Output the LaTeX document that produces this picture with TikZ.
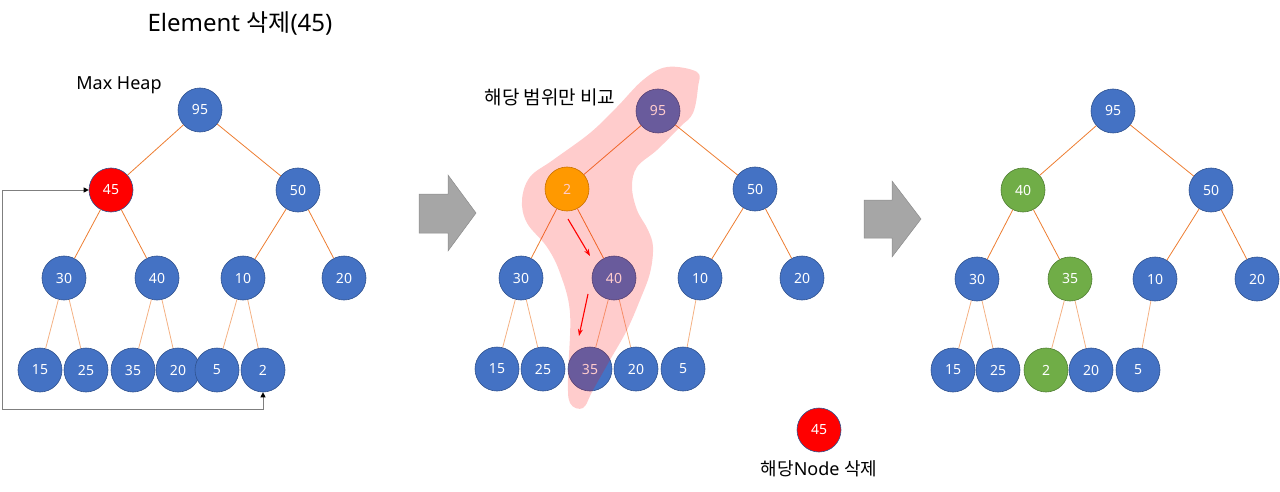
\documentclass[tikz,border=0pt]{standalone}
\usepackage{fontspec}
\setmainfont{Noto Sans}
\newfontfamily\kr{Noto Sans CJK KR}
\usepackage{xcolor}
\usepackage{tikz}
\usetikzlibrary{arrows.meta}
\definecolor{nblue}{HTML}{4472C4}
\definecolor{nblueline}{HTML}{2F528F}
\definecolor{ngreen}{HTML}{70AD47}
\definecolor{ngreenline}{HTML}{507E32}
\definecolor{ngold}{HTML}{FFC000}
\definecolor{ngoldline}{HTML}{BC8C00}
\definecolor{nred}{HTML}{FF0000}
\definecolor{edge}{HTML}{ED7D31}
\definecolor{edgelt}{HTML}{F4B183}
\definecolor{block}{HTML}{A6A6A6}
\definecolor{blockline}{HTML}{8C8C8C}
\definecolor{link}{HTML}{7F7F7F}
\tikzset{
  nd/.style={circle, minimum size=44pt, inner sep=0pt, fill=nblue, draw=nblueline, line width=0.6pt, text=white, font=\fontsize{14}{14}\selectfont},
  grn/.style={nd, fill=ngreen, draw=ngreenline},
  gld/.style={nd, fill=ngold, draw=ngoldline},
  del/.style={nd, fill=nred, draw=nblueline},
  up/.style={draw=edge, line width=0.8pt},
  lo/.style={draw=edgelt, line width=0.8pt},
  blk/.style={fill=block, draw=blockline, line width=0.5pt},
  move/.style={draw=nred, line width=1.1pt, -{Stealth[length=7pt,width=5pt]}},
  lbl/.style={text=black, font=\fontsize{18}{18}\selectfont, inner sep=0pt},
  ttl/.style={text=black, font=\fontsize{24}{24}\selectfont, inner sep=0pt}
}

\begin{document}
\begin{tikzpicture}[x=1pt,y=-1pt]
\useasboundingbox (0,0) rectangle (1280,492);

\node[ttl] (title) at (240,23) {Element {\kr 삭제}(45)};
\node[lbl] (maxheap) at (119,85) {Max Heap};

% left heap
\node[nd] (a95) at (200,110) {95};
\node[del] (a45) at (111,190) {45};
\node[nd] (a50) at (298,190) {50};
\node[nd] (a30) at (64,278) {30};
\node[nd] (a40) at (157,278) {40};
\node[nd] (a10) at (243,278) {10};
\node[nd] (a20) at (344,278) {20};
\node[nd] (a15) at (40,370) {15};
\node[nd] (a25) at (86,370) {25};
\node[nd] (a35) at (133,370) {35};
\node[nd] (a20b) at (178,370) {20};
\node[nd] (a5) at (217,370) {5};
\node[nd] (a2) at (263,370) {2};
\draw[up] (a95) -- (a45) (a95) -- (a50);
\draw[up] (a45) -- (a30) (a45) -- (a40) (a50) -- (a10) (a50) -- (a20);
\draw[lo] (a30) -- (a15) (a30) -- (a25) (a40) -- (a35) (a40) -- (a20b);
\draw[lo] (a10) -- (a5) (a10) -- (a2);

% last node goes to the top
\coordinate (bend) at (2,409);
\draw[link, line width=0.8pt, {Triangle[length=5pt,width=5pt,color=black]}-{Triangle[length=5pt,width=5pt,color=black]}] (a45.west) -| (bend) -| (a2.south);

% arrows
\draw[blk] (419,194) -- (448,194) -- (448,175) -- (476,213) -- (448,251) -- (448,233) -- (419,233) -- cycle;
\draw[blk] (864,200) -- (892,200) -- (892,181) -- (921,219) -- (892,257) -- (892,238) -- (864,238) -- cycle;

% middle heap
\node[lbl, font=\fontsize{19}{19}\selectfont] (cmplbl) at (550,97) {\kr 해당 범위만 비교};
\node[nd] (b95) at (658,111) {95};
\node[gld] (b2) at (567,189) {2};
\node[nd] (b50) at (755,189) {50};
\node[nd] (b30) at (521,278) {30};
\node[nd] (b40) at (614,278) {40};
\node[nd] (b10) at (700,278) {10};
\node[nd] (b20) at (802,278) {20};
\node[nd] (b15) at (497,369) {15};
\node[nd] (b25) at (543,369) {25};
\node[nd] (b35) at (590,369) {35};
\node[nd] (b20b) at (636,369) {20};
\node[nd] (b5) at (683,369) {5};
\draw[up] (b95) -- (b2) (b95) -- (b50);
\draw[up] (b2) -- (b30) (b2) -- (b40) (b50) -- (b10) (b50) -- (b20);
\draw[lo] (b30) -- (b15) (b30) -- (b25) (b40) -- (b35) (b40) -- (b20b) (b10) -- (b5);

% compared range
\fill[nred, opacity=0.2] plot[smooth cycle, tension=0.6] coordinates {
  (667,67) (697,72) (698,87) (693,113) (680,127) (657,150) (637,167) (632,187)
  (637,210) (648,230) (653,247) (650,273) (640,300) (627,330) (610,360) (593,390)
  (583,408) (570,403) (568,377) (570,313) (560,273) (547,247) (527,223) (522,200)
  (530,177) (553,160) (590,133) (617,107) (643,80)};

\coordinate (m1s) at (568,219);
\coordinate (m1e) at (590,256);
\coordinate (m2s) at (588,294);
\coordinate (m2e) at (579,336);
\draw[move] (m1s) -- (m1e);
\draw[move] (m2s) -- (m2e);

% removed node
\node[del] (gone) at (819,430) {45};
\node[lbl] (gonelbl) at (819,469) {{\kr 해당}Node {\kr 삭제}};

% right heap
\node[nd] (c95) at (1113,111) {95};
\node[grn] (c40) at (1023,190) {40};
\node[nd] (c50) at (1211,190) {50};
\node[nd] (c30) at (977,279) {30};
\node[grn] (c35) at (1070,279) {35};
\node[nd] (c10) at (1155,279) {10};
\node[nd] (c20) at (1257,279) {20};
\node[nd] (c15) at (953,370) {15};
\node[nd] (c25) at (998,370) {25};
\node[grn] (c2) at (1046,370) {2};
\node[nd] (c20b) at (1091,370) {20};
\node[nd] (c5) at (1138,370) {5};
\draw[up] (c95) -- (c40) (c95) -- (c50);
\draw[up] (c40) -- (c30) (c40) -- (c35) (c50) -- (c10) (c50) -- (c20);
\draw[lo] (c30) -- (c15) (c30) -- (c25) (c35) -- (c2) (c35) -- (c20b) (c10) -- (c5);
\end{tikzpicture}
\end{document}
